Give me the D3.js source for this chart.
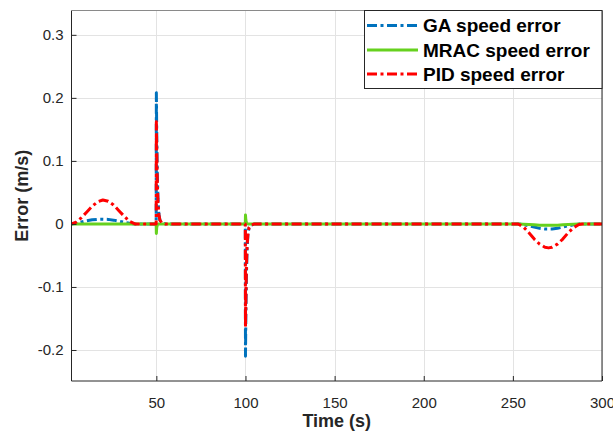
<!DOCTYPE html>
<html>
<head>
<meta charset="utf-8">
<script src="https://cdn.jsdelivr.net/npm/d3@7"></script>
<style>
  html, body { margin: 0; padding: 0; background: #fff; }
  svg { display: block; font-family: "Liberation Sans", Arial, sans-serif; }
</style>
</head>
<body>
<svg id="chart" width="613" height="434"></svg>
<script>
// ---------------- data ----------------
const time = [0, 2.4, 5, 8, 11, 14, 17, 20, 23, 26, 29, 32, 35, 38, 42, 46, 49.9,
  50, 50.2, 50.5, 50.9, 51.4, 52, 53, 55, 60, 80, 99.9,
  100, 100.2, 100.5, 100.9, 101.4, 102, 103, 105, 110, 150, 200,
  250, 253, 256, 259, 262, 265, 268, 270, 272, 275, 278, 281, 284, 287, 289, 292, 300];

const gaError = [0, 0, 0.001, 0.003, 0.005, 0.0065, 0.0073, 0.0075, 0.0072, 0.006, 0.0045, 0.0025, 0.001, 0, 0, 0, 0,
  0.208, 0.15, 0.085, 0.04, 0.016, 0.006, 0.002, 0, 0, 0, 0,
  -0.21, -0.15, -0.085, -0.04, -0.016, -0.006, -0.002, 0, 0, 0, 0,
  0, 0, -0.001, -0.003, -0.005, -0.007, -0.008, -0.008, -0.008, -0.007, -0.005, -0.003, -0.0015, -0.0003, 0, 0, 0];

const mracError = [0, 0, 0, 0, 0, 0, 0, 0, 0, 0, 0, 0, 0, 0, 0, 0, 0,
  -0.015, -0.006, -0.002, -0.0005, 0, 0, 0, 0, 0, 0, 0,
  0.014, 0.006, 0.002, 0.0005, 0, 0, 0, 0, 0, 0, 0,
  0, 0, -0.0005, -0.001, -0.0015, -0.002, -0.002, -0.002, -0.002, -0.002, -0.0015, -0.001, -0.0005, 0, 0, 0, 0];

const pidError = [0, 0, 0.003, 0.010, 0.019, 0.028, 0.035, 0.038, 0.036, 0.030, 0.021, 0.012, 0.004, 0, 0, 0, 0,
  0.162, 0.12, 0.07, 0.035, 0.015, 0.006, 0.002, 0, 0, 0, 0,
  -0.163, -0.12, -0.07, -0.035, -0.015, -0.006, -0.002, 0, 0, 0, 0,
  0, 0, -0.005, -0.014, -0.024, -0.032, -0.037, -0.038, -0.037, -0.032, -0.024, -0.014, -0.006, -0.001, 0, 0, 0];

const seriesNames = ["GA speed error", "MRAC speed error", "PID speed error"];
const xTicks = [50, 100, 150, 200, 250, 300];
const yTicks = [-0.2, -0.1, 0, 0.1, 0.2, 0.3];
const yTickLabels = ["-0.2", "-0.1", "0", "0.1", "0.2", "0.3"];
const xLabel = "Time (s)";
const yLabel = "Error (m/s)";

// ---------------- layout ----------------
const svg = d3.select("#chart");
const L = 71.5, R = 602, T = 10.5, B = 381;
const x = d3.scaleLinear().domain([2.4, 300]).range([L, R]);
const y = d3.scaleLinear().domain([-0.2492, 0.3386]).range([B, T]);

const ink = "#262626";

// grid
const grid = svg.append("g");
grid.selectAll("line.gx").data(xTicks).join("line")
  .attr("x1", d => Math.round(x(d)) + 0.5).attr("x2", d => Math.round(x(d)) + 0.5)
  .attr("y1", T).attr("y2", B)
  .attr("stroke", "#e3e3e3").attr("stroke-width", 1);
grid.selectAll("line.gy").data(yTicks).join("line")
  .attr("y1", d => Math.round(y(d)) + 0.5).attr("y2", d => Math.round(y(d)) + 0.5)
  .attr("x1", L).attr("x2", R)
  .attr("stroke", "#e3e3e3").attr("stroke-width", 1);

// lines
svg.append("clipPath").attr("id", "clip")
  .append("rect").attr("x", L).attr("y", T).attr("width", R - L).attr("height", B - T);

const line = d3.line().x((d, i) => x(time[i])).y(d => y(d));
const series = [
  { name: seriesNames[0], values: gaError, color: "#0072BD", dash: "10,3.5,3,3.5" },
  { name: seriesNames[1], values: mracError, color: "#66D11E", dash: null },
  { name: seriesNames[2], values: pidError, color: "#FF0000", dash: "10,3.5,3,3.5" }
];
const lg = svg.append("g").attr("clip-path", "url(#clip)");
series.forEach(s => {
  lg.append("path").datum(s.values)
    .attr("d", line)
    .attr("fill", "none")
    .attr("stroke", s.color)
    .attr("stroke-width", 3)
    .attr("stroke-dasharray", s.dash)
    .attr("stroke-linejoin", "round");
});

// axes
const xAxis = d3.axisBottom(x).tickValues(xTicks).tickSize(-5).tickPadding(16).tickFormat(d3.format("d"));
const yAxis = d3.axisLeft(y).tickValues(yTicks).tickSize(-5).tickPadding(8)
  .tickFormat((d, i) => yTickLabels[i]);

const gx = svg.append("g").attr("transform", `translate(0,${B})`).call(xAxis);
const gy = svg.append("g").attr("transform", `translate(${L},0)`).call(yAxis);
[gx, gy].forEach(g => {
  g.select(".domain").remove();
  g.selectAll(".tick line").attr("stroke", ink);
  g.selectAll(".tick text").attr("fill", ink).attr("font-size", 15).attr("font-family", "Liberation Sans, Arial, sans-serif");
});

// box
svg.append("line").attr("x1", L).attr("x2", L).attr("y1", T).attr("y2", B).attr("stroke", ink);
svg.append("line").attr("x1", L).attr("x2", R).attr("y1", B).attr("y2", B).attr("stroke", ink);
svg.append("line").attr("x1", R).attr("x2", R).attr("y1", T).attr("y2", B).attr("stroke", ink);
svg.append("line").attr("x1", L).attr("x2", R).attr("y1", T).attr("y2", T).attr("stroke", "#8a8a8a");

// axis titles
svg.append("text").attr("x", (L + R) / 2).attr("y", 421).attr("dy", "0.35em")
  .attr("text-anchor", "middle").attr("font-size", 18).attr("font-weight", "bold").attr("fill", ink)
  .text(xLabel);
svg.append("text").attr("transform", `translate(22,${(T + B) / 2}) rotate(-90)`).attr("dy", "0.35em")
  .attr("text-anchor", "middle").attr("font-size", 18).attr("font-weight", "bold").attr("fill", ink)
  .text(yLabel);

// legend
const lgX = 364.5, lgY = 10.5, lgW = 237.5, lgH = 78;
const legend = svg.append("g");
legend.append("rect").attr("x", lgX).attr("y", lgY).attr("width", lgW).attr("height", lgH)
  .attr("fill", "#fff").attr("stroke", ink).attr("stroke-width", 1);
const rowY = [25.5, 50, 74];
series.forEach((s, i) => {
  legend.append("line").attr("x1", 367).attr("x2", 418).attr("y1", rowY[i]).attr("y2", rowY[i])
    .attr("stroke", s.color).attr("stroke-width", 3).attr("stroke-dasharray", s.dash);
  legend.append("text").attr("x", 423).attr("y", rowY[i]).attr("dy", "0.36em")
    .attr("font-size", 19).attr("font-weight", "bold").attr("fill", "#000")
    .text(s.name);
});
</script>
</body>
</html>
